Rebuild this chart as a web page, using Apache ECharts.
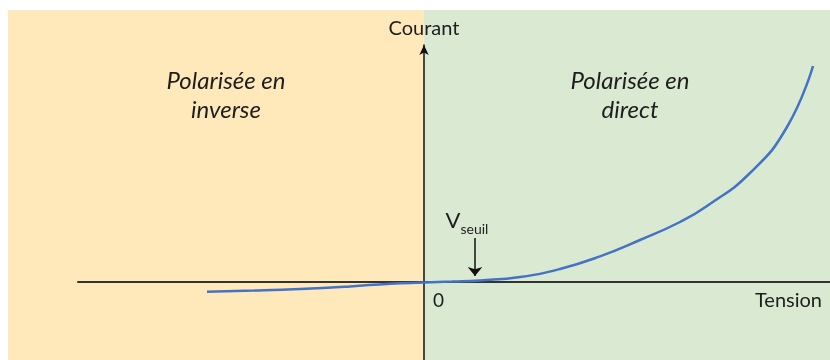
<!DOCTYPE html>
<html>
<head>
<meta charset="utf-8">
<title>Caractéristique courant-tension d'une diode</title>
<script src="https://cdn.jsdelivr.net/npm/echarts@6/dist/echarts.min.js"></script>
<style>
  html, body { margin: 0; padding: 0; background: #ffffff; }
  #chart { width: 830px; height: 360px; }
</style>
</head>
<body>
<div id="chart"></div>
<script>
// Diode characteristic (arbitrary units): tension on x, courant on y
const tension = [-217, -170, -124, -74, -34, 0, 28, 56, 96, 136, 176, 216, 256, 283, 326, 363, 389];
const courant = [-9.7, -8.6, -7.0, -4.4, -1.7, -0.5, 0.4, 1.6, 5.0, 13.0, 25.6, 42.0, 60.0, 76.0, 109.0, 155.0, 216.0];

// Threshold voltage marker
const vSeuil = 51;
const arrowTop = 44;
const arrowTip = 6;

// Axis extents
const xMin = -346, xMax = 406;
const yMin = -78, yMax = 237;

const zoneLabels = ['Polarisée en\ninverse', 'Polarisée en\ndirect'];
const axisNames = { x: 'Tension', y: 'Courant' };
const originLabel = '0';

const colors = {
  reverse: '#FFE8BA',
  forward: '#DAE9D1',
  curve: '#4472C4',
  text: '#1e1e1e'
};
const FONT = 'Lato, "Open Sans", sans-serif';

const chart = echarts.init(document.getElementById('chart'), null, { renderer: 'canvas' });

const option = {
  animation: false,
  backgroundColor: '#ffffff',
  grid: { left: 78, right: 0, top: 45, bottom: 0, containLabel: false, outerBoundsMode: 'none' },
  xAxis: {
    type: 'value',
    min: xMin,
    max: xMax,
    name: axisNames.x,
    nameLocation: 'end',
    nameGap: -8,
    nameTextStyle: {
      fontFamily: FONT, fontSize: 20, color: colors.text,
      align: 'right', verticalAlign: 'top', padding: [9, 0, 0, 0]
    },
    axisLine: { onZero: true, lineStyle: { color: '#333333', width: 2 } },
    axisTick: { show: false },
    axisLabel: { show: false },
    splitLine: { show: false }
  },
  yAxis: {
    type: 'value',
    min: yMin,
    max: yMax,
    name: axisNames.y,
    nameLocation: 'end',
    nameGap: 6,
    nameTextStyle: { fontFamily: FONT, fontSize: 20, color: colors.text, align: 'center' },
    axisLine: {
      onZero: true,
      symbol: ['none', 'arrow'],
      symbolSize: [7, 10],
      lineStyle: { color: '#111111', width: 1.5 }
    },
    axisTick: { show: false },
    axisLabel: { show: false },
    splitLine: { show: false }
  },
  series: [{
    type: 'line',
    data: tension.map((t, i) => [t, courant[i]]),
    smooth: 0.5,
    showSymbol: false,
    lineStyle: { color: colors.curve, width: 2.5 },
    z: 5,
    markLine: {
      silent: true,
      symbol: ['none', 'arrow'],
      symbolSize: [11, 9],
      lineStyle: { color: '#111111', width: 1.5, type: 'solid' },
      label: {
        show: true,
        position: 'start',
        distance: 6,
        padding: [0, 16, 0, 0],
        formatter: '{v|V}{s|seuil}',
        rich: {
          v: { fontFamily: FONT, fontSize: 22, color: colors.text, verticalAlign: 'bottom', lineHeight: 24 },
          s: { fontFamily: FONT, fontSize: 14, color: colors.text, verticalAlign: 'bottom', lineHeight: 24, padding: [0, 0, -4, 0] }
        }
      },
      data: [[{ coord: [vSeuil, arrowTop] }, { coord: [vSeuil, arrowTip] }]]
    }
  }]
};

chart.setOption(option);

// Shade the two polarisation zones, split at zero volts, and label the origin
const origin = chart.convertToPixel({ gridIndex: 0 }, [0, 0]);
const x0 = origin[0];
chart.setOption({
  graphic: [
    {
      type: 'rect', silent: true, z: -10,
      shape: { x: 8, y: 10, width: x0 - 8, height: 350 },
      style: { fill: colors.reverse }
    },
    {
      type: 'rect', silent: true, z: -10,
      shape: { x: x0, y: 10, width: 830 - x0, height: 350 },
      style: { fill: colors.forward }
    },
    {
      type: 'text', silent: true, z: 10,
      style: {
        text: originLabel, x: x0 + 9, y: origin[1] + 9,
        textAlign: 'left', textVerticalAlign: 'top',
        font: '19px ' + FONT, fill: colors.text
      }
    },
    {
      type: 'text', silent: true, z: 10,
      style: {
        text: zoneLabels[0], x: 226, y: 67,
        textAlign: 'center', textVerticalAlign: 'top',
        font: 'italic 24px ' + FONT, lineHeight: 29, fill: colors.text
      }
    },
    {
      type: 'text', silent: true, z: 10,
      style: {
        text: zoneLabels[1], x: 630, y: 67,
        textAlign: 'center', textVerticalAlign: 'top',
        font: 'italic 24px ' + FONT, lineHeight: 29, fill: colors.text
      }
    }
  ]
});
</script>
</body>
</html>
